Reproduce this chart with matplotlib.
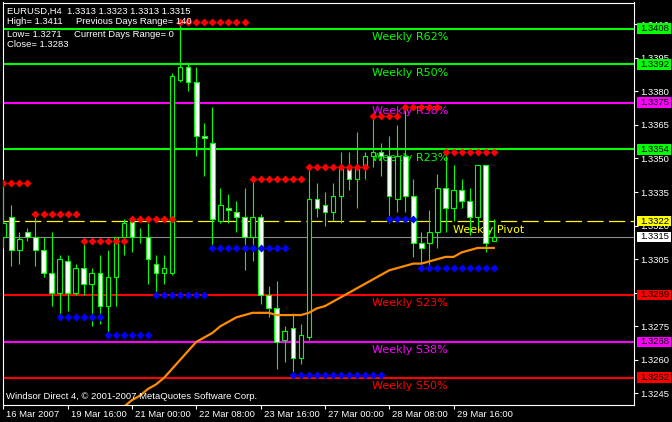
import matplotlib

matplotlib.use("Agg")
import matplotlib.pyplot as plt
import matplotlib.transforms as mtransforms
from matplotlib.patches import Rectangle

# EURUSD H4 candles, bar 0 = 16 Mar 08:00 ... bar 61 = 30 Mar 12:00
opens = [1.3315, 1.3324, 1.3309, 1.3317, 1.3315, 1.3309, 1.3299, 1.3290, 1.3304, 1.3290,
         1.3301, 1.3294, 1.3299, 1.3284, 1.3297, 1.3315, 1.3322, 1.3315, 1.3315, 1.3303,
         1.3299, 1.3299, 1.3385, 1.3391, 1.3384, 1.3360, 1.3357, 1.3322, 1.3328, 1.3326,
         1.3324, 1.3315, 1.3324, 1.3289, 1.3283, 1.3269, 1.3274, 1.3261, 1.3270, 1.3332,
         1.3329, 1.3326, 1.3333, 1.3346, 1.3341, 1.3346, 1.3351, 1.3353, 1.3351, 1.3332,
         1.3351, 1.3333, 1.3312, 1.3312, 1.3317, 1.3337, 1.3328, 1.3336, 1.3331, 1.3324,
         1.3347, 1.3313]
highs = [1.3339, 1.3329, 1.3317, 1.3319, 1.3325, 1.3315, 1.3317, 1.3307, 1.3307, 1.3303,
         1.3314, 1.3301, 1.3307, 1.3309, 1.3315, 1.3323, 1.3323, 1.3319, 1.3321, 1.3307,
         1.3307, 1.3388, 1.3411, 1.3392, 1.3391, 1.3366, 1.3373, 1.3337, 1.3334, 1.3331,
         1.3337, 1.3341, 1.3325, 1.3293, 1.3295, 1.3275, 1.3281, 1.3276, 1.3346, 1.3339,
         1.3335, 1.3339, 1.3353, 1.3353, 1.3362, 1.3353, 1.3369, 1.3357, 1.3360, 1.3365,
         1.3373, 1.3341, 1.3317, 1.3327, 1.3343, 1.3352, 1.3347, 1.3341, 1.3337, 1.3347,
         1.3347, 1.3323]
lows = [1.3310, 1.3302, 1.3303, 1.3313, 1.3302, 1.3297, 1.3284, 1.3279, 1.3282, 1.3289,
        1.3289, 1.3275, 1.3276, 1.3270, 1.3284, 1.3307, 1.3308, 1.3312, 1.3294, 1.3289,
        1.3294, 1.3298, 1.3384, 1.3380, 1.3351, 1.3342, 1.3309, 1.3321, 1.3321, 1.3317,
        1.3300, 1.3304, 1.3285, 1.3279, 1.3256, 1.3259, 1.3252, 1.3258, 1.3269, 1.3324,
        1.3320, 1.3322, 1.3321, 1.3336, 1.3328, 1.3341, 1.3346, 1.3342, 1.3321, 1.3326,
        1.3326, 1.3306, 1.3300, 1.3300, 1.3310, 1.3317, 1.3322, 1.3328, 1.3316, 1.3320,
        1.3308, 1.3313]
closes = [1.3321, 1.3309, 1.3314, 1.3315, 1.3309, 1.3299, 1.3290, 1.3305, 1.3290, 1.3301,
          1.3294, 1.3299, 1.3284, 1.3297, 1.3315, 1.3321, 1.3315, 1.3315, 1.3305, 1.3299,
          1.3301, 1.3387, 1.3391, 1.3384, 1.3360, 1.3359, 1.3323, 1.3329, 1.3327, 1.3324,
          1.3315, 1.3324, 1.3289, 1.3283, 1.3268, 1.3273, 1.3261, 1.3271, 1.3332, 1.3328,
          1.3326, 1.3333, 1.3346, 1.3341, 1.3346, 1.3351, 1.3353, 1.3351, 1.3333, 1.3351,
          1.3333, 1.3312, 1.3310, 1.3317, 1.3337, 1.3328, 1.3336, 1.3331, 1.3324, 1.3347,
          1.3312, 1.3315]

# orange moving average, first value belongs to bar 15
ma_first_bar = 15
ma_values = [1.3239, 1.3242, 1.3244, 1.3247, 1.3249, 1.3252, 1.3256, 1.3260, 1.3264, 1.3268,
             1.3270, 1.3272, 1.3275, 1.3277, 1.3279, 1.3280, 1.3281, 1.3281, 1.3281, 1.3280,
             1.3280, 1.3280, 1.3280, 1.3281, 1.3283, 1.3284, 1.3286, 1.3288, 1.3290, 1.3292,
             1.3294, 1.3296, 1.3298, 1.3300, 1.3301, 1.3302, 1.3303, 1.3303, 1.3304, 1.3305,
             1.3306, 1.3306, 1.3308, 1.3309, 1.3310, 1.3310, 1.3310]

# previous-day high / low dots: (first bar, last bar, price)
high_dots = [(0, 3, 1.3339), (4, 9, 1.3325), (10, 15, 1.3313), (16, 21, 1.3323),
             (22, 30, 1.3411), (31, 37, 1.3341), (38, 45, 1.3346), (46, 49, 1.3369),
             (50, 54, 1.3373), (55, 61, 1.3353)]
low_dots = [(7, 12, 1.3279), (13, 18, 1.3271), (19, 25, 1.3289), (26, 35, 1.3310),
            (36, 47, 1.3253), (48, 51, 1.3323), (52, 61, 1.3301)]

level_names = ["Weekly R62%", "Weekly R50%", "Weekly R38%", "Weekly R23%",
               "Weekly Pivot", "Weekly S23%", "Weekly S38%", "Weekly S50%"]
level_prices = [1.3408, 1.3392, 1.3375, 1.3354, 1.3322, 1.3289, 1.3268, 1.3252]
level_colors = ["#00FF00", "#00FF00", "#FF00FF", "#00FF00",
                "#FFFF00", "#FF0000", "#FF00FF", "#FF0000"]
level_label_bar = [45.85, 45.85, 45.85, 45.85, 55.9, 45.85, 45.85, 45.85]

bid_price = 1.3315

time_ticks = [0, 8, 16, 24, 32, 40, 48, 56]
time_labels = ["16 Mar 2007", "19 Mar 16:00", "21 Mar 00:00", "22 Mar 08:00",
               "23 Mar 16:00", "27 Mar 00:00", "28 Mar 08:00", "29 Mar 16:00"]
price_ticks = [1.3245, 1.3260, 1.3275, 1.3290, 1.3305, 1.3320,
               1.3335, 1.3350, 1.3365, 1.3380, 1.3395, 1.3410]

header = [
    ("EURUSD,H4  1.3313 1.3323 1.3313 1.3315", 7, 14),
    ("High= 1.3411", 7, 24),
    ("Previous Days Range= 140", 76, 24),
    ("Low= 1.3271", 7, 37),
    ("Current Days Range= 0", 74, 37),
    ("Close= 1.3283", 7, 47),
]
copyright_text = "Windsor Direct 4, \u00a9 2001-2007 MetaQuotes Software Corp."

LIME = "#00FF00"
W, H = 672, 422

plt.rcParams["font.family"] = ["Liberation Sans", "DejaVu Sans"]

fig = plt.figure(figsize=(W / 100, H / 100), dpi=100, facecolor="black")
# plot frame in pixels: x 2.5..634, y 2.5..405
ax = fig.add_axes([2.5 / W, 1 - 405 / H, (634 - 2.5) / W, (405 - 2.5) / H])
ax.set_facecolor("black")
ax.set_xlim(-0.1, 78.44)
ax.set_ylim(1.32398, 1.34197)
for s in ax.spines.values():
    s.set_color("white")
    s.set_linewidth(0.8)

# horizontal levels (behind the candles, like MT4 "chart on foreground")
for name, p, col, xb in zip(level_names, level_prices, level_colors, level_label_bar):
    if name == "Weekly Pivot":
        ax.axhline(p, color=col, lw=0.9, ls=(0, (13, 4.3)), zorder=2)
    else:
        ax.axhline(p, color=col, lw=1.5, zorder=2)
    ax.annotate(name, xy=(xb, p), xytext=(0, -11.5), textcoords="offset pixels",
                color=col, fontsize=8, family="DejaVu Sans", va="baseline",
                ha="left", zorder=2.5)
ax.axhline(bid_price, color="#8C8C8C", lw=0.8, zorder=2)

# candles
for i, (o, h, l, c) in enumerate(zip(opens, highs, lows, closes)):
    ax.vlines(i, l, h, color=LIME, lw=0.8, zorder=3)
    fill = "white" if c < o else "black"
    ax.add_patch(Rectangle((i - 0.28, min(o, c)), 0.56, abs(c - o),
                           facecolor=fill, edgecolor=LIME, lw=0.8, zorder=4))

# indicators
ma_x = list(range(ma_first_bar, ma_first_bar + len(ma_values)))
ax.plot(ma_x, ma_values, color="#FF8C00", lw=1.6, zorder=5)
for a, b, p in high_dots:
    ax.plot(list(range(a, b + 1)), [p] * (b - a + 1), ls="none", marker="D",
            ms=3.7, color="#FF0000", mec="none", zorder=5)
for a, b, p in low_dots:
    ax.plot(list(range(a, b + 1)), [p] * (b - a + 1), ls="none", marker="D",
            ms=3.7, color="#0000FF", mec="none", zorder=5)

# axes ticks
ax.yaxis.tick_right()
ax.set_yticks(price_ticks)
ax.set_yticklabels([f"{p:.4f}" for p in price_ticks])
ax.tick_params(axis="y", colors="white", length=3, width=0.8, pad=1.5,
               labelsize=6.8, direction="out")
ax.set_xticks(time_ticks)
ax.set_xticklabels([])
ax.tick_params(axis="x", colors="white", length=3, width=0.8, direction="out")
for t, lab in zip(time_ticks, time_labels):
    ax.annotate(lab, xy=(t, 0), xycoords=("data", "axes fraction"),
                xytext=(3, -5), textcoords="offset pixels", color="white",
                fontsize=6.8, ha="left", va="top", annotation_clip=False)

# coloured price boxes on the right scale
box_tr = mtransforms.blended_transform_factory(ax.transAxes, ax.transData)
box_h = 10.5 / 2.237 / 10000
box_prices = level_prices + [bid_price]
box_colors = level_colors + ["white"]
for p, col in zip(box_prices, box_colors):
    ax.add_patch(Rectangle(((637 - 2.5) / 631.5, p - box_h / 2), 34 / 631.5, box_h,
                           transform=box_tr, facecolor=col, edgecolor="none",
                           clip_on=False, zorder=6))
    ax.text((640 - 2.5) / 631.5, p, f"{p:.4f}", transform=box_tr, color="black",
            fontsize=6.8, va="center", ha="left", clip_on=False, zorder=7)

# header and footer text
for txt, x, y in header:
    fig.text(x / W, 1 - y / H, txt, color="white", fontsize=6.8, va="baseline")
fig.text(6 / W, 1 - 399 / H, copyright_text, color="white", fontsize=6.8,
         va="baseline")

fig.savefig("out.png", dpi=100, facecolor="black")
